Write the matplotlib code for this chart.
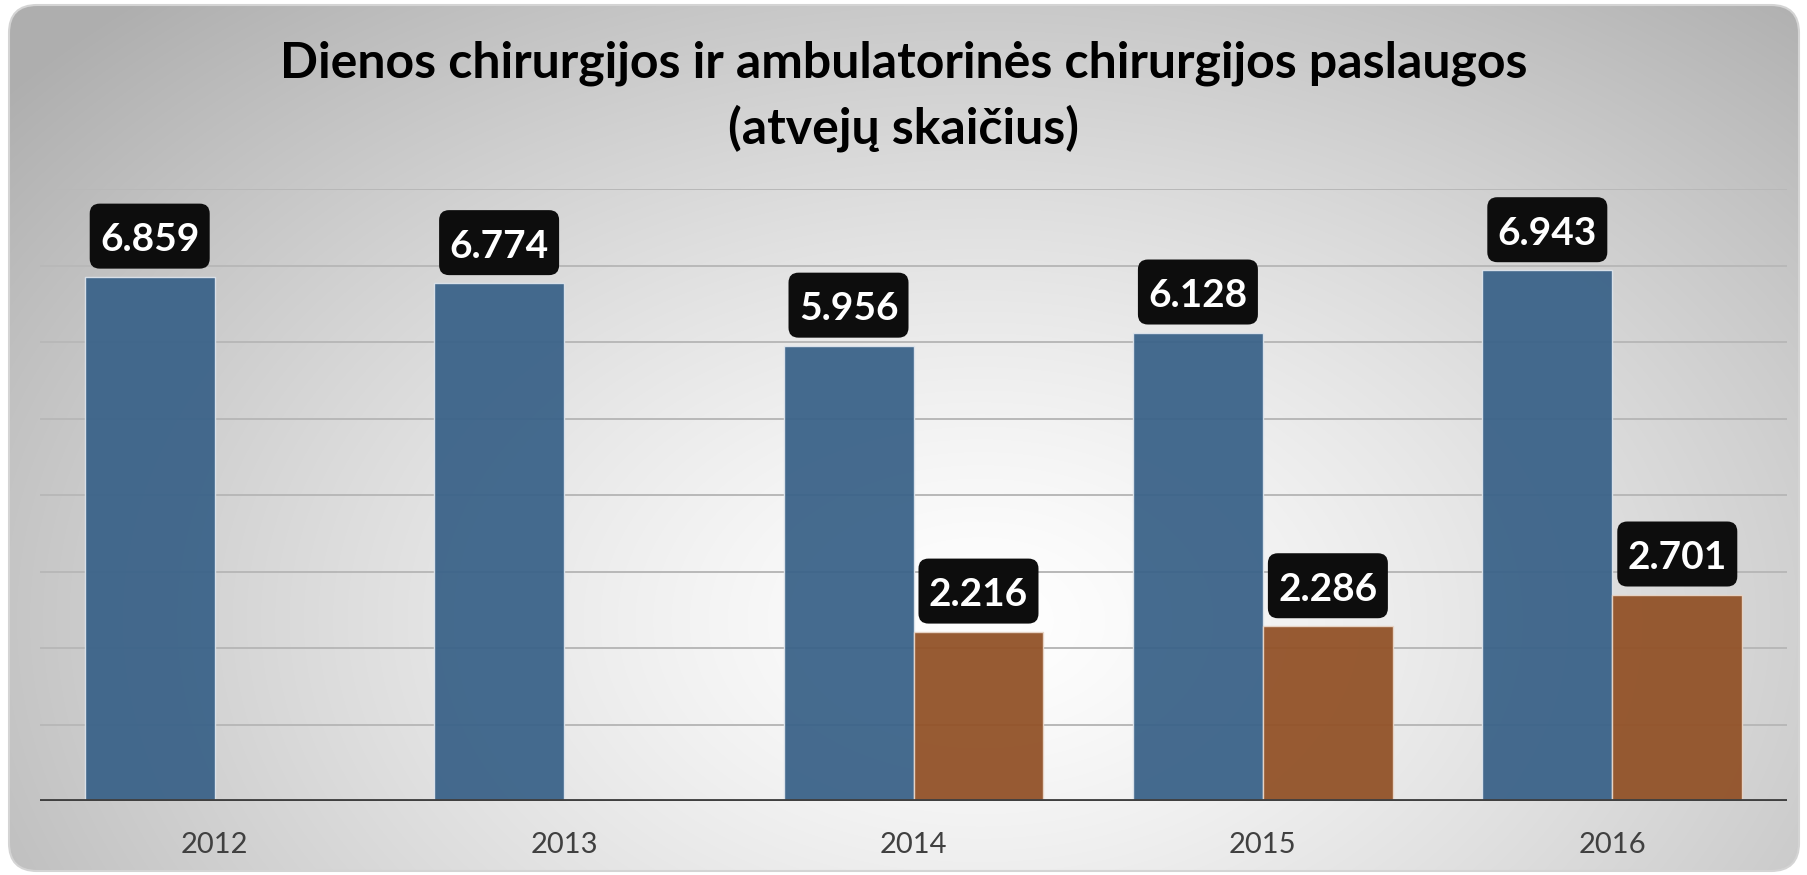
import numpy as np
import matplotlib.pyplot as plt
from matplotlib.patches import FancyBboxPatch
from matplotlib.transforms import IdentityTransform

years = ['2012', '2013', '2014', '2015', '2016']
dienos = [6.859, 6.774, 5.956, 6.128, 6.943]
ambul = [np.nan, np.nan, 2.216, 2.286, 2.701]
title = 'Dienos chirurgijos ir ambulatorinės chirurgijos paslaugos\n(atvejų skaičius)'

W, H = 1807, 875
plt.rcParams['font.family'] = ['Lato', 'DejaVu Sans']
fig = plt.figure(figsize=(W / 100, H / 100), dpi=100)
fig.patch.set_facecolor('white')

# background with radial gradient
bg = fig.add_axes([0, 0, 1, 1])
bg.set_xlim(0, W)
bg.set_ylim(H, 0)
bg.axis('off')
yy, xx = np.mgrid[0:H, 0:W]
cx, cy = 980, 620
d = np.sqrt(((xx - cx) / 1050.0) ** 2 + ((yy - cy) / 700.0) ** 2)
v = 1.0 - 0.25 * np.clip(d, 0, 1.2) ** 1.3
img = np.dstack([v, v, v])
im = bg.imshow(img, extent=(0, W, H, 0), origin='upper', interpolation='bilinear', aspect='auto')
frame = FancyBboxPatch((9, 5), 1790, 866, boxstyle='round,pad=0,rounding_size=28',
                       transform=bg.transData, facecolor='none', edgecolor='#d4d4d4', lw=1.5)
bg.add_patch(frame)
im.set_clip_path(frame)

bg.text(W / 2, 96, title, ha='center', va='center', fontsize=36, fontweight='bold',
        color='black', linespacing=1.47)

# main axes
ax = fig.add_axes([40 / W, 74 / H, 1747 / W, 611.6 / H])
ax.patch.set_alpha(0)
ax.set_xlim(-0.5, 4.5)
ax.set_ylim(0, 8)
ax.set_yticks(range(9))
ax.yaxis.grid(True, color='#b8b8b8', lw=1.4)
ax.set_axisbelow(True)
ax.tick_params(axis='y', length=0, labelleft=False)
ax.tick_params(axis='x', length=0, pad=22, labelsize=21, labelcolor='#404040')
for s in ax.spines.values():
    s.set_visible(False)

x = np.arange(len(years))
w = 0.372
ax.bar(x - w / 2, dienos, w, color='#3b6389', alpha=0.95, edgecolor='#dde4ec', lw=1.0, zorder=2)
ax.bar(x + w / 2, ambul, w, color='#925228', alpha=0.95, edgecolor='#e8d6c8', lw=1.0, zorder=2)
ax.axhline(0, color='#404040', lw=3.5, zorder=3)
ax.set_xticks(x)
ax.set_xticklabels(years)

BOX_W, BOX_H, GAP = 120, 65, 8

def label(xc, val):
    if np.isnan(val):
        return
    px, py = ax.transData.transform((xc, val))
    box = FancyBboxPatch((px - BOX_W / 2, py + GAP), BOX_W, BOX_H,
                         boxstyle='round,pad=0,rounding_size=10', transform=IdentityTransform(),
                         facecolor='#0d0d0d', edgecolor='none', zorder=5, clip_on=False)
    ax.add_artist(box)
    ax.text(px, py + GAP + BOX_H / 2 - 15, f'{val:.3f}', transform=IdentityTransform(),
            ha='center', va='baseline', fontsize=28, fontweight='bold', color='white',
            zorder=6, clip_on=False)

for i in range(len(years)):
    label(x[i] - w / 2, dienos[i])
    label(x[i] + w / 2, ambul[i])

fig.savefig('out.png', dpi=100)
